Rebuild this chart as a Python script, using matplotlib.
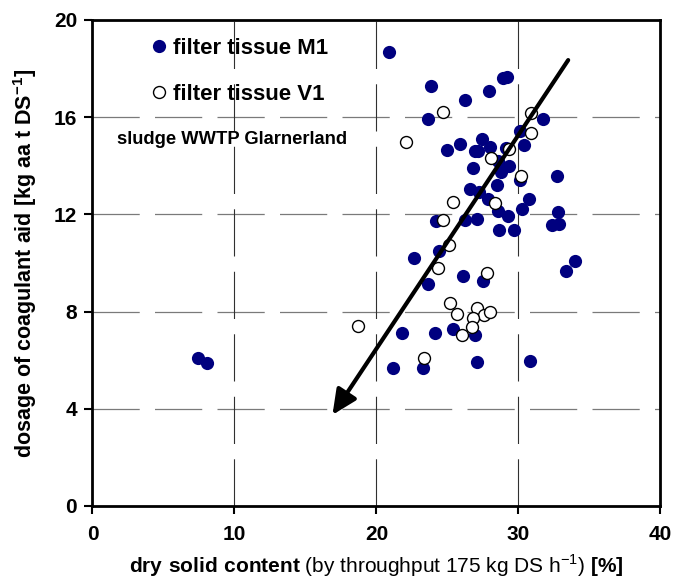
import numpy as np
import matplotlib
matplotlib.use("Agg")
import matplotlib.pyplot as plt
from matplotlib.lines import Line2D

plt.rcParams['font.family'] = ['Liberation Sans', 'DejaVu Sans']
plt.rcParams['mathtext.fontset'] = 'custom'
plt.rcParams['mathtext.rm'] = 'Liberation Sans'
plt.rcParams['mathtext.bf'] = 'Liberation Sans:bold'
plt.rcParams['lines.scale_dashes'] = False

# filter tissue M1 (filled)
m1_x = [7.45, 8.04, 20.88, 23.82, 28.89, 29.17, 27.92, 26.25, 23.6, 31.75, 30.1,
        25.88, 27.43, 24.94, 26.95, 27.15, 27.99, 29.1, 30.39,
        28.55, 29.3, 28.75, 26.77, 30.08, 32.7,
        26.58, 27.2, 28.46, 27.87, 30.74, 30.22, 32.75,
        24.19, 26.25, 27.06, 28.58, 29.28, 28.64, 29.68, 32.34, 32.87,
        24.42, 22.66, 26.07, 27.52, 23.65, 33.98, 33.35,
        25.41, 26.94, 21.77, 24.12,
        21.18, 23.25, 27.1, 30.81]
m1_y = [6.08, 5.9, 18.7, 17.28, 17.6, 17.64, 17.06, 16.69, 15.93, 15.91, 15.42,
        14.9, 15.12, 14.65, 14.6, 14.6, 14.79, 14.75, 14.87,
        14.2, 14.0, 13.76, 13.9, 13.42, 13.56,
        13.05, 12.93, 13.21, 12.65, 12.62, 12.21, 12.1,
        11.73, 11.75, 11.8, 12.15, 11.93, 11.34, 11.37, 11.56, 11.6,
        10.49, 10.19, 9.47, 9.27, 9.12, 10.08, 9.67,
        7.28, 7.04, 7.1, 7.13,
        5.67, 5.69, 5.94, 5.98]

# filter tissue V1 (open)
v1_x = [24.7, 30.86, 30.9, 22.08, 29.35, 28.04, 30.2, 25.36, 28.35, 24.66, 25.13,
        24.35, 27.8, 25.18, 25.65, 27.06, 27.57, 27.99, 26.77, 26.7, 26.0, 23.37, 18.72]
v1_y = [16.23, 16.18, 15.33, 14.97, 14.7, 14.3, 13.6, 12.52, 12.48, 11.77, 10.74,
        9.78, 9.58, 8.34, 7.89, 8.13, 7.86, 7.97, 7.72, 7.35, 7.04, 6.08, 7.41]

# trend arrow (start -> end)
arrow_start = (33.5, 18.35)
arrow_end = (16.9, 3.75)

navy = '#00007f'

fig = plt.figure(figsize=(6.73, 5.81), dpi=100)
ax = fig.add_axes([0.1374, 0.1291, 0.8440, 0.8365])

# Сетка
for yv in [4, 8, 12, 16]:
    ax.axhline(yv, color='#7a7a7a', lw=0.9, linestyle=(0, (34, 11)), zorder=0)
for xv in [10, 20, 30]:
    ax.axvline(xv, color='#303030', lw=0.8, linestyle=(0, (34, 11)), zorder=0)

ax.plot(m1_x, m1_y, 'o', color=navy, markersize=9.5, markeredgewidth=0, zorder=3)
ax.plot(v1_x, v1_y, 'o', markerfacecolor='white', markeredgecolor='black',
        markersize=8.6, markeredgewidth=1.0, zorder=4)

ax.annotate('', xy=arrow_end, xytext=arrow_start,
            arrowprops=dict(arrowstyle='-|>,head_length=0.75,head_width=0.35',
                            lw=3, color='black', mutation_scale=20,
                            shrinkA=0, shrinkB=0), zorder=5)

ax.set_xlim(0, 40)
ax.set_ylim(0, 20)
ax.set_xticks([0, 10, 20, 30, 40])
ax.set_yticks([0, 4, 8, 12, 16, 20])
for s in ax.spines.values():
    s.set_linewidth(2)
ax.tick_params(direction='out', length=6, width=1.5, labelsize=15)
ax.tick_params(axis='x', pad=8)
ax.tick_params(axis='y', pad=5)
for lab in ax.get_xticklabels() + ax.get_yticklabels():
    lab.set_fontweight('bold')

ax.set_xlabel(r'$\mathbf{dry\ solid\ content}$ (by throughput 175 kg DS h$^{-1}$) $\mathbf{[\%]}$',
              fontsize=15, labelpad=6)
ax.set_ylabel(r'dosage of coagulant aid [kg aa t DS$\mathbf{^{-1}}$]',
              fontsize=15.5, fontweight='bold', labelpad=11)

# Легенда
handles = [Line2D([], [], marker='o', ls='', color=navy, markersize=9.5, markeredgewidth=0),
           Line2D([], [], marker='o', ls='', markerfacecolor='white', markeredgecolor='black',
                  markersize=8.6, markeredgewidth=1.0)]
leg = ax.legend(handles, ['filter tissue M1', 'filter tissue V1'], loc='upper left',
                bbox_to_anchor=(0.067, 1.005), frameon=False, handlelength=0.8,
                handletextpad=0.2, labelspacing=1.15,
                prop={'weight': 'bold', 'size': 16, 'family': 'Liberation Sans'})
ax.text(0.043, 0.755, 'sludge WWTP Glarnerland', transform=ax.transAxes,
        fontsize=13.2, fontweight='bold', va='center', ha='left')

fig.savefig('out.png', dpi=100)
